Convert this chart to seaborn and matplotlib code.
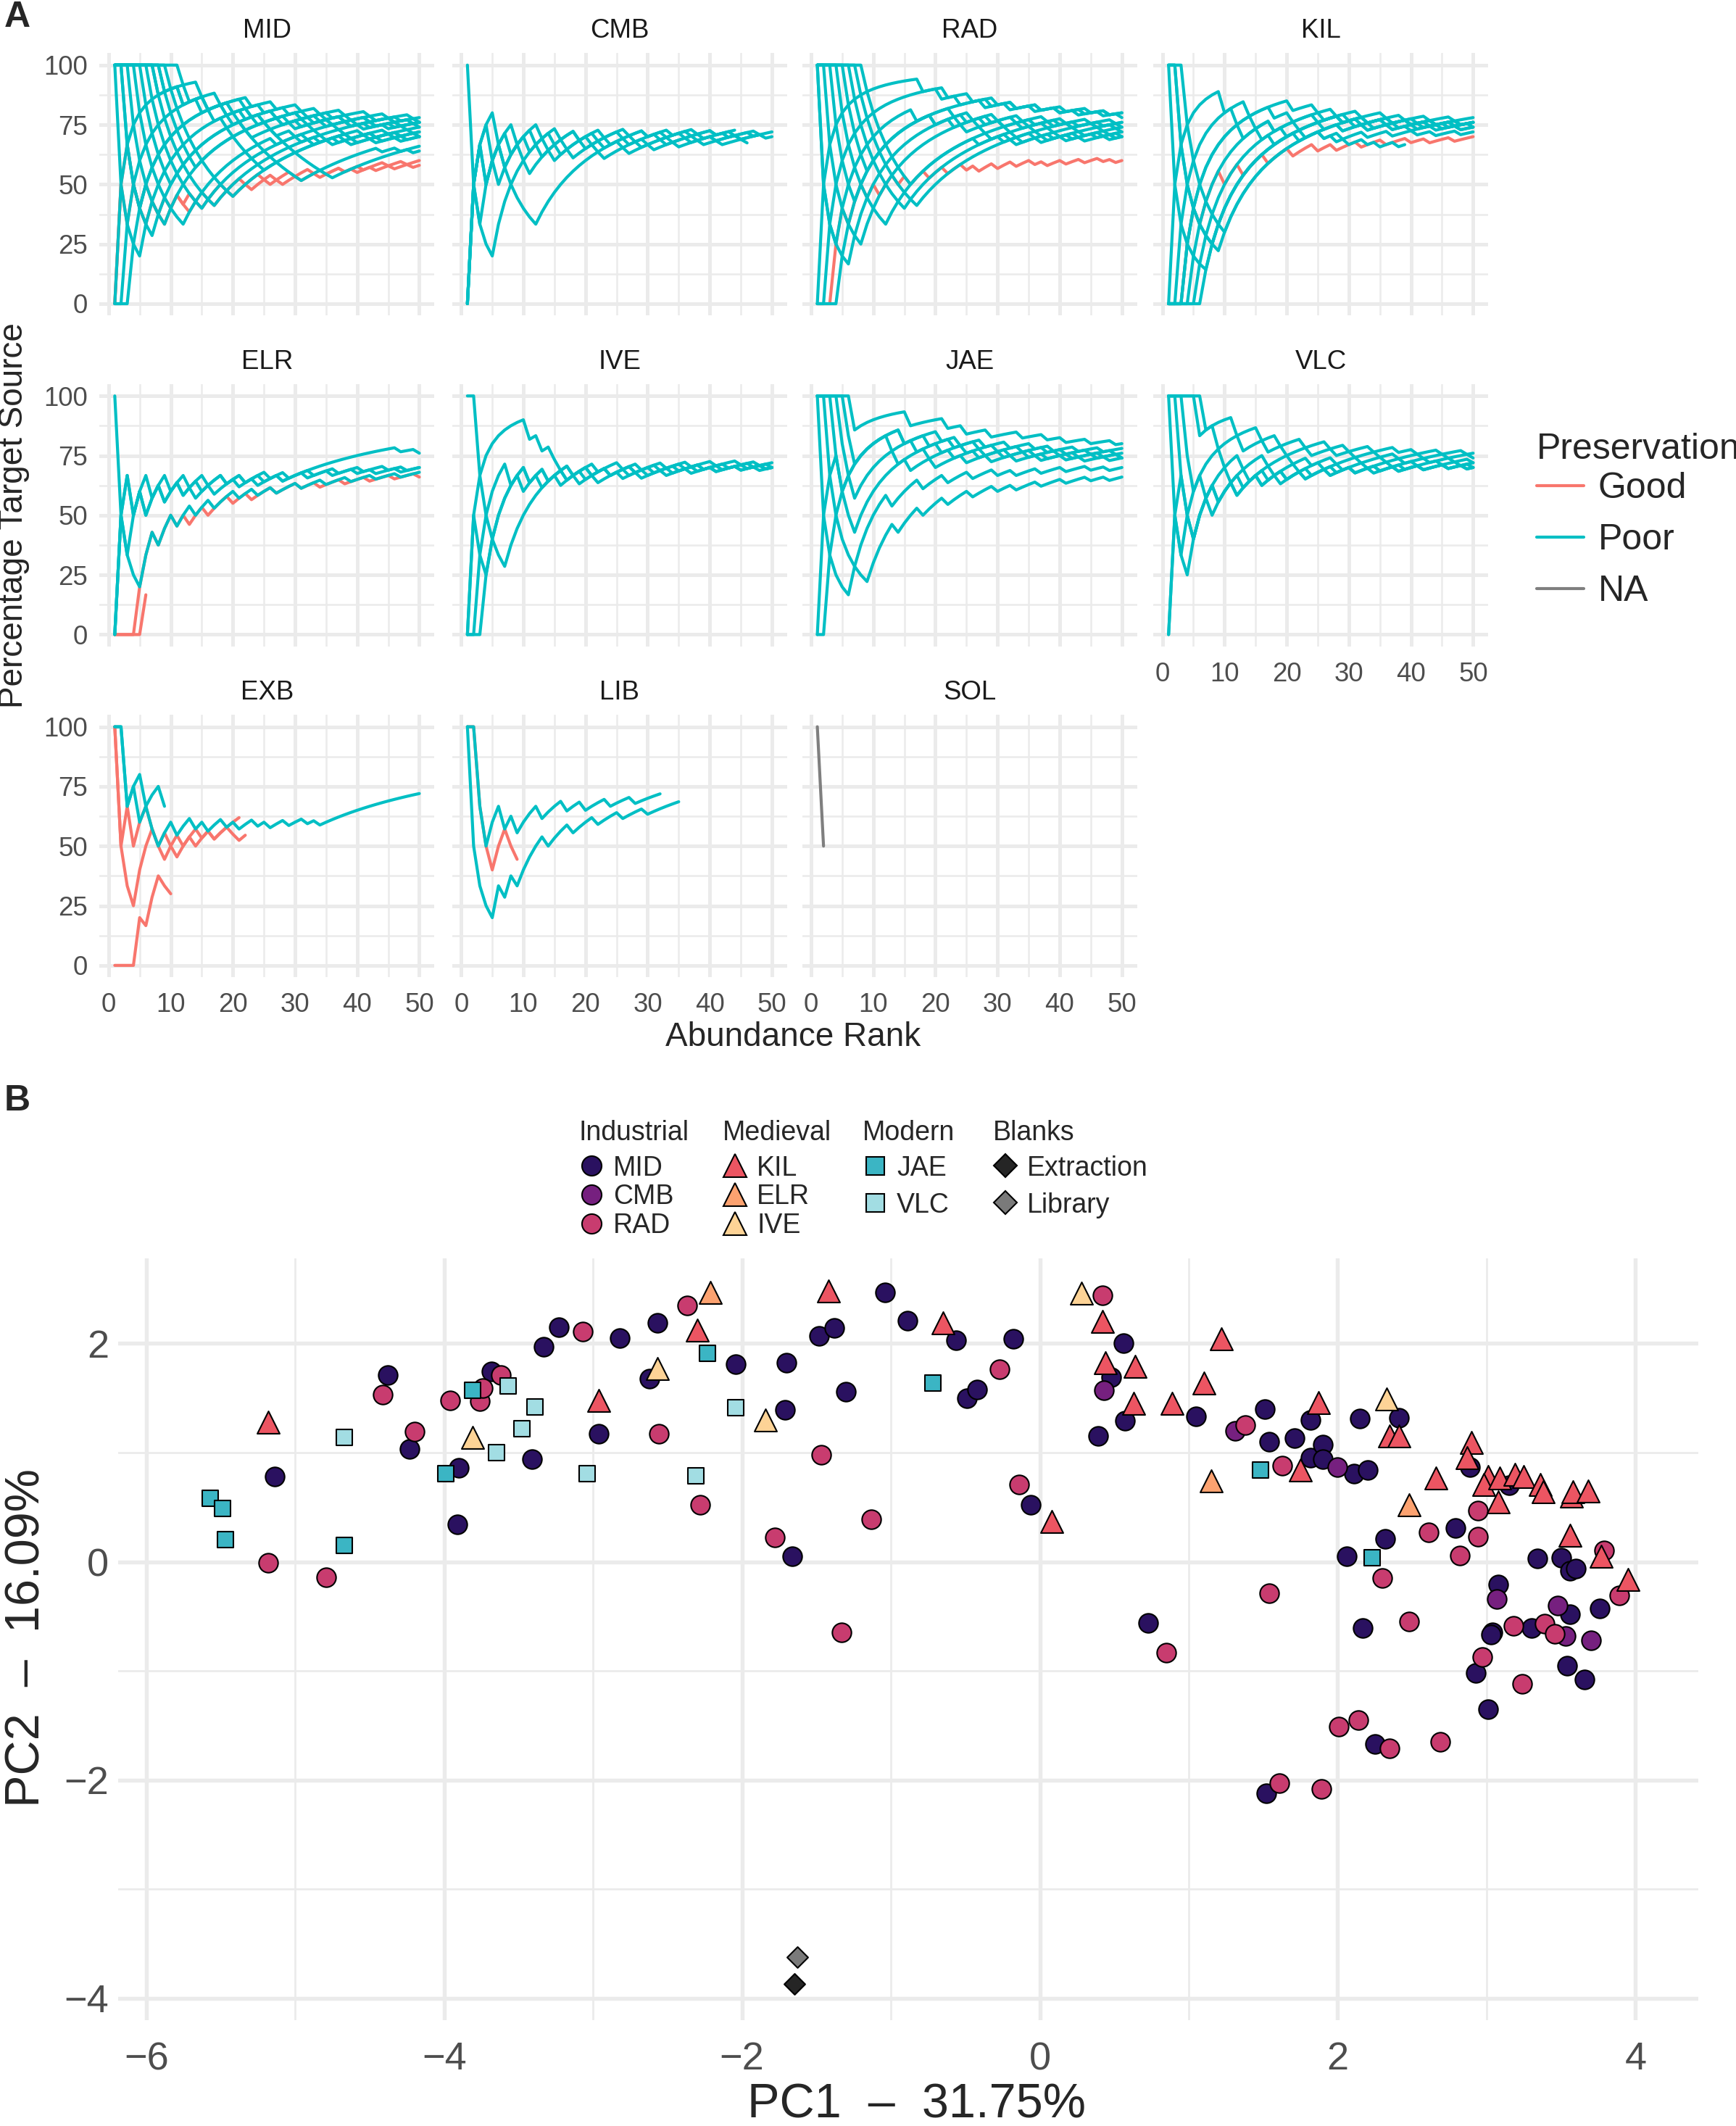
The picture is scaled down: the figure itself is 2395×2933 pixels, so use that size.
import numpy as np
import pandas as pd
import matplotlib
matplotlib.use("Agg")
import matplotlib.pyplot as plt
import seaborn as sns
from matplotlib.lines import Line2D

sns.set_theme(style="white")
plt.rcParams['font.family'] = ['Liberation Sans', 'DejaVu Sans']

# ---------------- Panel A data ----------------
# Each string: taxon at abundance rank 1..n is from target source (1) or not (0)
sites = ["MID", "CMB", "RAD", "KIL", "ELR", "IVE", "JAE", "VLC", "EXB", "LIB", "SOL"]

mid_hits = [
    "0110001001 1001010110 1101101011 0110111011 0111011011",
    "0101010010 1010101101 1011010110 1101011010 1101101101",
    "1000011111 1111111111 0111011011 1011101101 1101110111",
    "1100000111 1111111111 1011101110 1101110111 0111011011",
    "1110000001 1111111111 1101110110 1110111011 0111011101",
    "1111000000 0011111111 1111110111 0110111011 1011101110",
    "1111110000 0000011111 1111111111 1011011101 1101110110",
    "1111111000 0000000111 1111111111 1101110110 1110111011",
    "1111111110 0000000000 1111111111 1111101101 1101110111",
    "1111111111 1011000100 0000011111 1111111101 1101110111",
    "1111111101 1011101100 1000000000 0111111111 1110110111",
    "1111111011 1011011101 1010100000 0000001111 1111111101",
    "0111111111 1101101110 1101110111 0110111011 1011101110",
    "0011111111 1111111011 1011011101 1011101101 1101110110",
    "0001111111 1111111111 1101110111 0110111011 1011011101",
    "1111100000 1111111111 1111011101 1101101110 1101110111",
    "1100011111 1111111110 1101110111 0111011011 1011101101",
    "1111111100 0000111111 1111111011 0111011101 1011101110",
]
mid_pres = ["Good"] * 2 + ["Poor"] * 16

cmb_hits = [
    "1000011111 1101101110 1101110110 1110111011 0111011101",
    "0111101101 1101011101 1011101110 1101110111 0110111011",
    "0110110000 0011111111 1101110111 0111011101 101110",
    "0110111011 1011101101 1101110110 1110111011 0111",
    "0101101110 0111011011 1011101101 1101110111 01110111",
    "0111010111 0110110111 0110111011 1011101101 11011101",
]
cmb_pres = ["Poor"] * 6

rad_hits = [
    "0001101101 0110101101 1011010110 1101101011 0110110101",
    "1000001111 1111111111 1111011101 1101101110 1101110111",
    "1100000011 1111111111 1111011011 1011101101 1101110110",
    "1111000000 0011111111 1111110111 0110111011 1011101101",
    "1111110000 0000011111 1111111111 1011101101 1101110110",
    "1111111000 0000000111 1111111111 1101110111 0110111011",
    "0111111111 1111111011 1011101101 1101110111 0111011011",
    "0011111111 1111111111 0110111011 1011101110 1101110110",
    "0000111111 1111111111 1111111110 1101110110 1110111011",
    "1110000111 1111111110 1101110111 0110111011 1011101101",
    "1111100001 1111111111 1101101110 1110111011 0111011101",
    "1000111111 1111110110 1110111011 0111011101 1011101110",
    "1111111100 0000001111 1111111101 1101110110 1110111011",
]
rad_pres = ["Good"] + ["Poor"] * 12

kil_hits = [
    "0001101110 1101110111 0111011011 1011101110 1101110111",
    "0111111110 1001101011 1011101101 1101110111 0110111011",
    "1110000000 1111111111 1111111101 1101110110 1110111011",
    "1100000011 1111111111 1111111110 1101110110 1110111011",
    "1000000111 1111111111 1111111101 1011101110 1101110111",
    "0000001111 1111111111 1111111101 1101110111 0110111011",
    "0000011111 1111111111 1111101101 1101110110 1110111011",
    "0001111111 1111111111 0111011011 1011101101 1101110111",
    "0011111111 1110111011 0111011101 1011101110 1101110111",
    "0000111111 1111111011 1011101101 1101110111 0111011011",
    "0001111111 1111011010 1101101010 110101101",
    "1100000001 1111111111 1111111111 0110111011 1011101110",
]
kil_pres = ["Good"] + ["Poor"] * 11

elr_hits = [
    "0000111011 0101101110 1101110111 0110111011 1011101110",
    "000001",
    "0110110110 1101101101 1011011011 1111111111 1111110110",
    "1000011011 0110110111 0110110111 0111011101 1101110111",
    "0101101101 1011011101 1011101101 1101110111 0111011011",
    "0110101101 1010110111 0110111011 1011101110 1101110111",
]
elr_pres = ["Good", "Good", "Poor", "Poor", "Poor", "Poor"]

ive_hits = [
    "0111111111 0101001011 0110110110 1110111011 0111011101",
    "1100000111 1111101101 1011101101 1101110111 0111011011",
    "0100111111 0110111011 1011101101 1101110111 0111011011",
    "0011111010 1101110110 1110111011 0111011101 1011101101",
    "0001111111 0110110111 0110111011 1011101101 1101110110",
]
ive_pres = ["Poor"] * 5

jae_hits = [
    "1111110111 1111101111 1011011101 1110111011 0111011101",
    "1111100111 1111011111 0110111011 1011101101 1101110111",
    "1111000111 1110111101 1101110111 0111011011 1011101110",
    "1110000111 1111101110 1111011101 1101110111 0110111011",
    "1000001111 1101111011 1011101110 1101110111 0111011011",
    "1100000001 1110111011 1011101110 1101110111 0111011011",
    "0011111111 1111011101 1101110110 1110111011 0111011101",
    "0111011111 1101110111 0111011011 1011101110 1101110110",
]
jae_pres = ["Poor"] * 8

vlc_hits = [
    "1111110111 1011101101 1101110110 1110111011 0111011101",
    "1111101101 1101110110 1110111011 0111011011 1011101110",
    "1110011110 1101110111 0110111011 1011101101 1101110110",
    "1100011101 1101110110 1110111011 0111011101 1011101110",
    "1001011101 1011101101 1101110111 0110111011 1011101101",
    "0100111011 1011101110 1101110111 0111011011 1011101101",
    "0110110111 0110111011 1011101101 1101110111 0111011011",
]
vlc_pres = ["Poor"] * 7

exb_hits = [
    "1101100011 0110101101 0110101101 1010111111 1111111111",
    "110101110",
    "0000101100",
    "1010110001 1011010111 1",
    "1000111010 0110110110 01",
]
exb_pres = ["Poor", "Poor", "Good", "Good", "Good"]

lib_hits = [
    "1000010101 1110111011 1011101110 11111",
    "1100110101 1101110110 1110111011 11",
    "110001100",
]
lib_pres = ["Poor", "Poor", "Good"]

sol_hits = ["10"]
sol_pres = ["NA"]

site_hits = [mid_hits, cmb_hits, rad_hits, kil_hits, elr_hits, ive_hits,
             jae_hits, vlc_hits, exb_hits, lib_hits, sol_hits]
site_pres = [mid_pres, cmb_pres, rad_pres, kil_pres, elr_pres, ive_pres,
             jae_pres, vlc_pres, exb_pres, lib_pres, sol_pres]

pres_colors = {"Good": "#F8766D", "Poor": "#00BFC4", "NA": "#7F7F7F"}

# ---------------- Panel B data (PCA scores) ----------------
mid_pc1 = [-5.14, -4.38, -4.23, -3.90, -3.91, -3.68, -3.41, -3.33, -3.23, -2.96, -2.82, -2.62,
           -2.57, -2.04, -1.70, -1.71, -1.66, -1.48, -1.38, -1.30, -1.04, -0.89, -0.56, -0.18,
           -0.49, -0.42, -0.06, 0.56, 0.48, 0.57, 0.39, 1.05, 1.51, 1.54, 1.71, 1.82, 1.82,
           1.90, 1.90, 2.11, 2.20, 2.15, 2.41, 2.06, 2.32, 0.73, 2.17, 2.79, 2.89, 3.15, 3.76,
           3.34, 3.50, 3.56, 3.60, 3.08, 3.56, 3.30, 3.04, 3.03, 2.93, 3.54, 3.66, 3.01, 2.25, 1.52]
mid_pc2 = [0.78, 1.71, 1.03, 0.86, 0.34, 1.74, 0.94, 1.97, 2.15, 1.17, 2.05, 1.68,
           2.19, 1.81, 1.82, 1.39, 0.05, 2.07, 2.14, 1.56, 2.47, 2.21, 2.03, 2.04,
           1.50, 1.58, 0.52, 2.00, 1.69, 1.29, 1.15, 1.33, 1.40, 1.10, 1.13, 1.30, 0.95,
           1.07, 0.94, 0.81, 0.84, 1.31, 1.32, 0.05, 0.21, -0.56, -0.61, 0.31, 0.87, 0.70, -0.43,
           0.03, 0.04, -0.08, -0.06, -0.21, -0.48, -0.61, -0.65, -0.67, -1.02, -0.95, -1.08, -1.35, -1.67, -2.12]
cmb_pc1 = [0.43, 1.31, 2.00, 3.07, 3.48, 3.53, 3.70]
cmb_pc2 = [1.57, 1.20, 0.87, -0.34, -0.40, -0.68, -0.72]
rad_pc1 = [-5.18, -4.79, -4.41, -4.20, -3.96, -3.76, -3.74, -3.62, -3.07, -2.56, -2.37, -2.28,
           -1.78, -1.47, -1.33, -1.13, -0.27, -0.14, 0.42, 1.38, 1.63, 2.30, 1.54, 0.85, 2.48,
           2.61, 2.82, 2.94, 2.94, 3.79, 3.89, 3.18, 3.39, 3.46, 2.97, 3.24, 2.01, 2.14, 2.35,
           2.69, 1.61, 1.89]
rad_pc2 = [-0.01, -0.14, 1.53, 1.19, 1.48, 1.47, 1.59, 1.71, 2.11, 1.17, 2.35, 0.52,
           0.22, 0.98, -0.65, 0.39, 1.76, 0.71, 2.44, 1.25, 0.88, -0.15, -0.29, -0.83, -0.55,
           0.27, 0.06, 0.47, 0.23, 0.10, -0.31, -0.59, -0.57, -0.66, -0.87, -1.12, -1.51, -1.45, -1.71,
           -1.65, -2.03, -2.08]
kil_pc1 = [-5.18, -2.96, -2.30, -1.42, -0.65, 0.08, 0.42, 0.44, 0.64, 0.63, 0.89, 1.10, 1.22,
           1.75, 1.87, 2.35, 2.41, 2.66, 2.90, 2.87, 3.01, 2.98, 3.08, 3.09, 3.19, 3.25, 3.36,
           3.38, 3.57, 3.58, 3.68, 3.56, 3.77, 3.95]
kil_pc2 = [1.28, 1.48, 2.12, 2.48, 2.19, 0.37, 2.20, 1.82, 1.79, 1.45, 1.45, 1.64, 2.04,
           0.84, 1.46, 1.15, 1.15, 0.77, 1.09, 0.95, 0.78, 0.71, 0.55, 0.77, 0.80, 0.78, 0.71,
           0.64, 0.60, 0.64, 0.65, 0.24, 0.05, -0.16]
elr_pc1 = [-2.21, 1.15, 2.48]
elr_pc2 = [2.47, 0.74, 0.52]
ive_pc1 = [-3.81, -2.57, -1.84, 0.28, 2.33]
ive_pc2 = [1.14, 1.77, 1.30, 2.46, 1.49]
jae_pc1 = [-5.57, -5.49, -5.47, -4.67, -3.99, -3.81, -2.23, -0.72, 1.48, 2.23]
jae_pc2 = [0.58, 0.49, 0.20, 0.15, 0.81, 1.57, 1.91, 1.64, 0.84, 0.04]
vlc_pc1 = [-4.67, -3.57, -3.65, -3.48, -3.39, -3.04, -2.31, -2.04]
vlc_pc2 = [1.14, 1.61, 1.00, 1.22, 1.42, 0.81, 0.79, 1.41]
ext_pc1 = [-1.65]
ext_pc2 = [-3.87]
lib_pc1 = [-1.63]
lib_pc2 = [-3.62]

pc_colors = {"MID": "#2A1160", "CMB": "#76207F", "RAD": "#C83C6F", "KIL": "#EC5562",
             "ELR": "#FCA270", "IVE": "#FDD396", "JAE": "#3BB5C4", "VLC": "#A2DDE3",
             "Extraction": "#252525", "Library": "#7A7A7A"}

# ---------------- build long table for panel A ----------------
frames = []
for site, hits_list, pres_list in zip(sites, site_hits, site_pres):
    for i, (h, p) in enumerate(zip(hits_list, pres_list)):
        seq = np.array([int(ch) for ch in h.replace(" ", "")])
        rank = np.arange(1, len(seq) + 1)
        frames.append(pd.DataFrame({
            "site": site, "sample": f"{site}_{i}", "rank": rank,
            "pct": 100 * np.cumsum(seq) / rank, "Preservation": p}))
curves = pd.concat(frames, ignore_index=True)

# ---------------- figure ----------------
W, H = 1280, 1568
fig = plt.figure(figsize=(2395 / 300, 2933 / 300), dpi=300)


def box(l, t, r, b):
    return [l / W, 1 - b / H, (r - l) / W, (b - t) / H]


grid_col = "#EBEBEB"
tick_col = "#4D4D4D"
col_left = [73.4, 333.4, 591.4, 850.4]
row_top = [39.2, 283.2, 527.2]

for idx, site in enumerate(sites):
    r, c = divmod(idx, 4)
    ax = fig.add_axes(box(col_left[c], row_top[r], col_left[c] + 247, row_top[r] + 193.6))
    d = curves[curves.site == site]
    levels = [lv for lv in ["Good", "Poor", "NA"] if lv in set(d.Preservation)]
    sns.lineplot(data=d, x="rank", y="pct", hue="Preservation", hue_order=levels,
                 units="sample", estimator=None, palette=pres_colors, sort=False,
                 legend=False, lw=1.0, ax=ax)
    ax.set_xlim(-1.45, 52.45)
    ax.set_ylim(-5, 105)
    ax.set_xticks(range(0, 51, 10))
    ax.set_xticks(range(5, 50, 10), minor=True)
    ax.set_yticks([0, 25, 50, 75, 100])
    ax.set_yticks([12.5, 37.5, 62.5, 87.5], minor=True)
    ax.grid(which="major", color=grid_col, lw=1.2)
    ax.grid(which="minor", color=grid_col, lw=0.6)
    ax.set_axisbelow(True)
    for s in ax.spines.values():
        s.set_visible(False)
    ax.tick_params(which="both", length=0, labelsize=8.8, labelcolor=tick_col, pad=4)
    ax.tick_params(axis="x", pad=5)
    ax.tick_params(labelleft=(c == 0), labelbottom=(idx >= 7))
    ax.set_xlabel("")
    ax.set_ylabel("")
    ax.set_title(site, fontsize=8.8, pad=5, color="#1A1A1A")

fig.text(10 / W, 1 - 380 / H, "Percentage Target Source", rotation=90,
         ha="center", va="center", fontsize=11)
fig.text(585 / W, 1 - 765 / H, "Abundance Rank", ha="center", va="center", fontsize=11)

pres_handles = [Line2D([0], [0], color=pres_colors[k], lw=1.0) for k in ["Good", "Poor", "NA"]]
leg_a = fig.legend(pres_handles, ["Good", "Poor", "NA"], title="Preservation",
                   loc="upper left", bbox_to_anchor=(1133 / W, 1 - 319 / H), frameon=False,
                   fontsize=12, title_fontsize=12, handlelength=1.3, handletextpad=0.4,
                   labelspacing=0.5, borderpad=0, borderaxespad=0, alignment="left")
leg_a._legend_box.sep = 2.0

fig.text(3 / W, 1 - 13 / H, "A", fontsize=12, fontweight="bold", va="center")
fig.text(3 / W, 1 - 812 / H, "B", fontsize=12, fontweight="bold", va="center")

# ---------------- panel B ----------------
axb = fig.add_axes(box(87, 928, 1252, 1490))
groups = [
    ("MID", mid_pc1, mid_pc2, "o", 40),
    ("CMB", cmb_pc1, cmb_pc2, "o", 40),
    ("RAD", rad_pc1, rad_pc2, "o", 40),
    ("KIL", kil_pc1, kil_pc2, "^", 55),
    ("ELR", elr_pc1, elr_pc2, "^", 55),
    ("IVE", ive_pc1, ive_pc2, "^", 55),
    ("JAE", jae_pc1, jae_pc2, "s", 26),
    ("VLC", vlc_pc1, vlc_pc2, "s", 26),
    ("Extraction", ext_pc1, ext_pc2, "D", 24),
    ("Library", lib_pc1, lib_pc2, "D", 24),
]
for name, xs, ys, mk, sz in groups:
    sns.scatterplot(x=xs, y=ys, marker=mk, color=pc_colors[name], edgecolor="black",
                    linewidth=0.5, s=sz, ax=axb, legend=False, zorder=3)

axb.set_xlim(-6.19, 4.42)
axb.set_ylim(-4.2, 2.78)
axb.set_xticks([-6, -4, -2, 0, 2, 4])
axb.set_xticks([-5, -3, -1, 1, 3], minor=True)
axb.set_yticks([-4, -2, 0, 2])
axb.set_yticks([-3, -1, 1], minor=True)
axb.set_xticklabels(["\u22126", "\u22124", "\u22122", "0", "2", "4"])
axb.set_yticklabels(["\u22124", "\u22122", "0", "2"])
axb.grid(which="major", color=grid_col, lw=1.3)
axb.grid(which="minor", color=grid_col, lw=0.65)
axb.set_axisbelow(True)
for s in axb.spines.values():
    s.set_visible(False)
axb.tick_params(which="both", length=0, labelsize=13, labelcolor=tick_col)
axb.tick_params(axis="x", pad=7)
axb.tick_params(axis="y", pad=3)
axb.set_xlabel("")
axb.set_ylabel("")
fig.text(676 / W, 1 - 1553 / H, "PC1  \u2013  31.75%", ha="center", va="center", fontsize=16)
fig.text(20 / W, 1 - 1208 / H, "PC2  \u2013  16.09%", rotation=90, ha="center", va="center",
         fontsize=16)


def make_handles(names, mk, ms):
    return [Line2D([0], [0], marker=mk, ls="", markerfacecolor=pc_colors[n],
                   markeredgecolor="black", markeredgewidth=0.5, markersize=ms) for n in names]


legend_specs = [
    ("Industrial", ["MID", "CMB", "RAD"], "o", 6.5, 427, 0.1),
    ("Medieval", ["KIL", "ELR", "IVE"], "^", 7.5, 533, 0.1),
    ("Modern", ["JAE", "VLC"], "s", 6.0, 636, 0.4),
    ("Blanks", ["Extraction", "Library"], "D", 5.5, 732, 0.4),
]
for title, names, mk, ms, xl, ls in legend_specs:
    leg = fig.legend(make_handles(names, mk, ms), names, title=title, loc="upper left",
                     bbox_to_anchor=(xl / W, 1 - 826 / H), frameon=False, fontsize=9,
                     title_fontsize=9, handlelength=0.9, handletextpad=0.35,
                     labelspacing=ls, borderpad=0, borderaxespad=0, alignment="left")
    leg._legend_box.sep = 3.0

fig.savefig("out.png", dpi=300, facecolor="white")
